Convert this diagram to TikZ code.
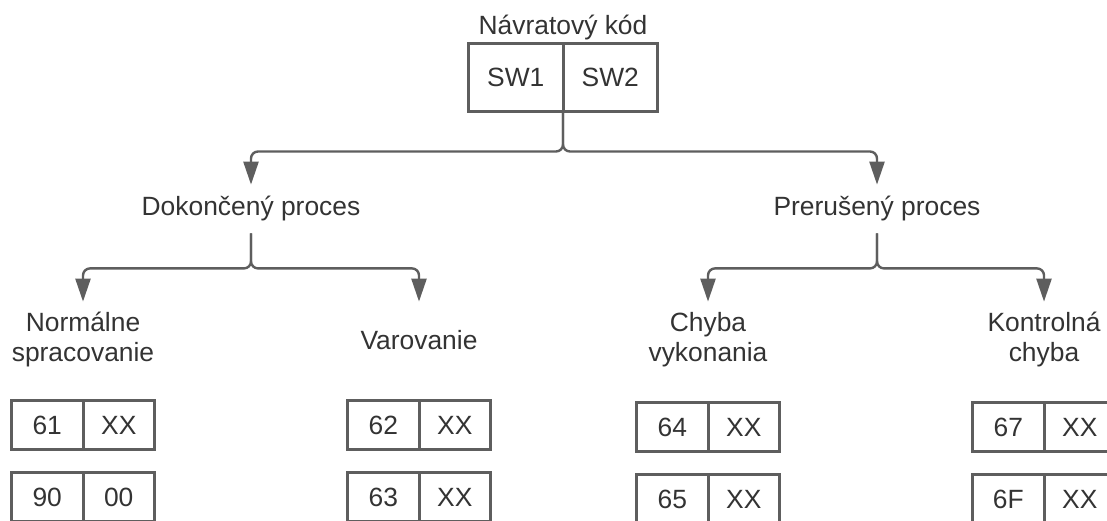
\documentclass[tikz,border=0pt]{standalone}
\usepackage{fontspec}
\setmainfont{Liberation Sans}
\usetikzlibrary{positioning,arrows.meta}
\definecolor{linegray}{HTML}{5E5E5E}
\definecolor{textgray}{HTML}{333333}
\tikzset{
  cell/.style={draw=linegray, line width=1.5pt, outer sep=0pt, inner sep=0pt,
    minimum width=35.75pt, minimum height=24.5pt, text=textgray},
  topcell/.style={cell, minimum width=47.25pt, minimum height=34pt},
  conn/.style={-{Triangle[length=11.5pt,width=7.5pt]}, draw=linegray, line width=1.2pt, rounded corners=3.5pt},
  lbl/.style={text=textgray, align=center, inner sep=0pt},
  proc/.style={lbl, minimum height=24pt},
  kind/.style={lbl, minimum height=38pt},
}
\begin{document}
\begin{tikzpicture}[x=0.5pt, y=-0.5pt, font=\fontsize{13.2}{15}\selectfont]
    \useasboundingbox (0,0) rectangle (1107,520);
    \clip (0,0) rectangle (1107,520);
    % return code
    \node[topcell] (sw1) at (515.75,77.5) {SW1};
    \node[topcell, right=0pt of sw1] (sw2) {SW2};
    \node[lbl, above=1.75pt of sw1.north east] (kod) {Návratový kód};
    % processes
    \node[proc] (dok) at (251,209) {Dokončený proces};
    \node[proc] (pre) at (877,209) {Prerušený proces};
    \node[kind] (nor) at (83,340) {Normálne\\spracovanie};
    \node[kind] (var) at (419,340) {Varovanie};
    \node[kind] (chy) at (708,340) {Chyba\\vykonania};
    \node[kind] (kon) at (1044,340) {Kontrolná\\chyba};
    % codes
    \node[cell] (n1) at (47.25,425) {61};
    \node[cell, right=0pt of n1] (n1x) {XX};
    \node[cell, below=11.5pt of n1] (n2) {90};
    \node[cell, right=0pt of n2] (n2x) {00};
    \node[cell] (v1) at (383.25,425) {62};
    \node[cell, right=0pt of v1] (v1x) {XX};
    \node[cell, below=11.5pt of v1] (v2) {63};
    \node[cell, right=0pt of v2] (v2x) {XX};
    \node[cell] (c1) at (672.25,427) {64};
    \node[cell, right=0pt of c1] (c1x) {XX};
    \node[cell, below=11.5pt of c1] (c2) {65};
    \node[cell, right=0pt of c2] (c2x) {XX};
    \node[cell] (k1) at (1008.25,427) {67};
    \node[cell, right=0pt of k1] (k1x) {XX};
    \node[cell, below=11.5pt of k1] (k2) {6F};
    \node[cell, right=0pt of k2] (k2x) {XX};
    % arrows
    \draw[conn] (sw1.south east) -- ++(0,40) -| (dok.north);
    \draw[conn] (sw1.south east) -- ++(0,40) -| (pre.north);
    \draw[conn] (dok.south) -- ++(0,35) -| (nor.north);
    \draw[conn] (dok.south) -- ++(0,35) -| (var.north);
    \draw[conn] (pre.south) -- ++(0,35) -| (chy.north);
    \draw[conn] (pre.south) -- ++(0,35) -| (kon.north);
\end{tikzpicture}
\end{document}
